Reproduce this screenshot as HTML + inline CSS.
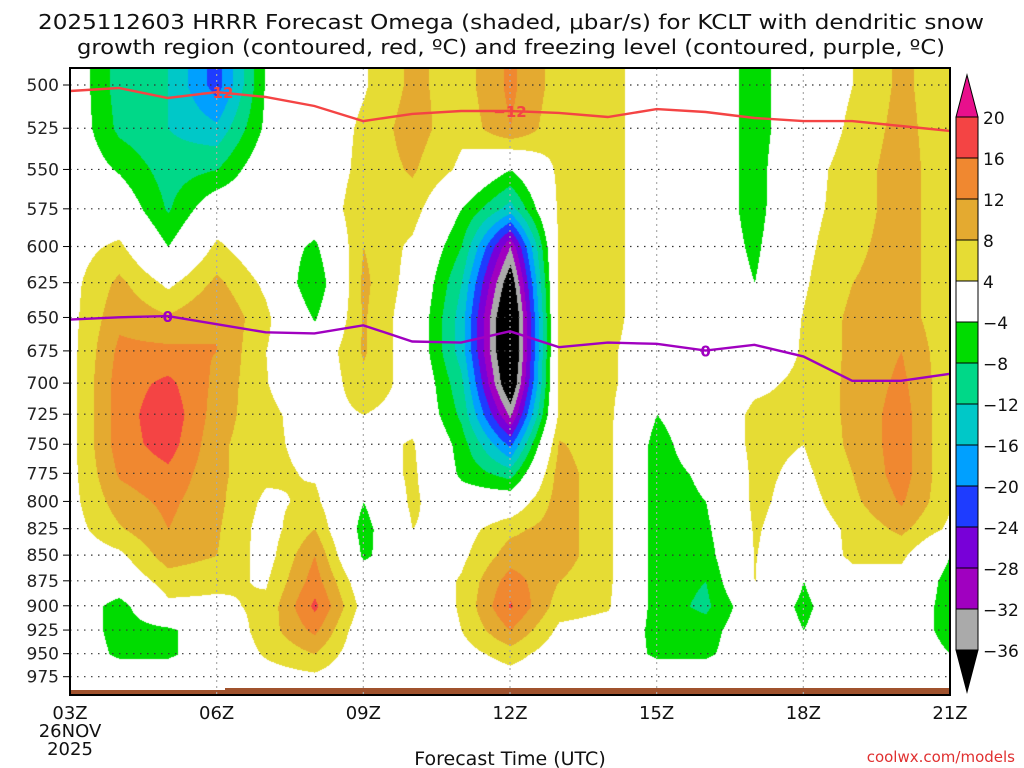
<!DOCTYPE html>
<html><head><meta charset="utf-8"><style>
html,body{margin:0;padding:0;background:#fff;width:1024px;height:768px;overflow:hidden}
#wrap{position:relative;width:1024px;height:768px}
canvas{position:absolute;left:0;top:0}
svg{position:absolute;left:0;top:0}
text{font-family:"DejaVu Sans","Liberation Sans",sans-serif;fill:#111}
</style></head><body>
<div id="wrap">
<canvas id="field" width="1024" height="768"></canvas>
<svg id="ov" width="1024" height="768"></svg>
</div>
<script>
// ---- data ----
const hours = ["03Z","04Z","05Z","06Z","07Z","08Z","09Z","10Z","11Z","12Z","13Z","14Z","15Z","16Z","17Z","18Z","19Z","20Z","21Z"];
const levels = [500,525,550,575,600,625,650,675,700,725,750,775,800,825,850,875,900,925,950,975];
const omega03 = [0,0,0,0,2,2.5,2.5,2.5,2.5,2.5,2.5,2.5,2.5,2,1,0,0,0,0,0];
const omega04 = [-10,-9,-4.5,0,5,9,11,13,14,14,14,12.5,10,7.5,3,0,-6,-6,-5,0];
const omega05 = [-12,-12,-10,-8.5,-4,3,8.5,13,17,19,18,15,13,12,10,6,3,-5,-5,0];
const omega06 = [-22,-15,-8,0,5,9,12,12,11,10,9,9,9,8.5,8,5,3,0,0,0];
const omega07 = [-3.5,-3,0,0,0,3,5,4,4.2,5,5,5,3,2,2,3.5,5,6,4.5,2];
const omega08 = [0,0,0,0,-5,-8,-4.5,0,0,2,2.5,3.5,5,8,12,14,17,13,8,3];
const omega09 = [3.5,5,5.5,7,8,9,8.5,8.5,7,4,2,0,-4,-6,-5,0,2,0,0,0];
const omega10 = [9,10,8.5,6,3,2,1,1,2,2,4.5,5,5,4,1,0,0,0,0,0];
const omega11 = [6,5,3,-4,-8,-12,-14,-14,-11,-9,-6,-5,-1,2,3,4.5,4.5,4,2,0];
const omega12 = [13,12,-4,-14,-32,-40,-45,-45,-42,-33,-21,-10,0,7,10,14,16.5,12,6,2];
const omega13 = [6,5,5,5,5,5,5,5,5,5,8.5,10,10,10,10,8,6,3,1,0];
const omega14 = [6,6,6,6,6,6,6,5,5,5,5,5,5,5,5,5,4.5,2,0,0];
const omega15 = [0,0,0,0,0,0,0,0,0,-4,-6,-6,-6,-6,-6,-6,-6,-6,-5,0];
const omega16 = [0,0,0,0,0,0,0,0,0,0,0,-3,-4,-5,-6,-8,-9,-6,-5,0];
const omega17 = [-6,-6,-6,-6,-5,-4,0,0,3,5,5,5,5,4.5,4.2,4.1,0,0,0,0];
const omega18 = [0,0,2,2.5,3,3.5,4.2,4.5,5,5,4,3,2,1,0,-4,-5,-4,0,0];
const omega19 = [4,5,6,6,7,8,9,9,9,9,9,8,7,5,5,2,0,0,0,0];
const omega20 = [9,9.5,10,10,10,10,10,12,13,14,14,14,12.5,9,5,2,0,0,0,0];
const omega21 = [5,5,5,5,5,5,5,5,5,4.5,4.5,4.5,4.5,3,-4,-6,-6,-6,-4,0];
const omegaCols = [omega03,omega04,omega05,omega06,omega07,omega08,omega09,omega10,omega11,omega12,omega13,omega14,omega15,omega16,omega17,omega18,omega19,omega20,omega21];
const dgzLine = [503.4,501.7,507.4,504,506.8,512,520.8,516.6,514.9,514.9,516,518.4,513.8,515.5,519,520.8,520.8,523.7,526.6];
const frzLine = [651.6,649.9,649,655,661,661.8,655.8,667.9,668.7,660.2,672.2,668.7,669.6,674.8,670.4,679.2,698.2,698.2,692.7];
const cbarTicks = ["20","16","12","8","4","−4","−8","−12","−16","−20","−24","−28","−32","−36"];
const cbarBounds = [20,16,12,8,4,-4,-8,-12,-16,-20,-24,-28,-32,-36];

// ---- axes (log-pressure) ----
const X0=70, X1=950, Y500=85, KLN=886, YT=68, YB=695;
const xOf = h => X0 + (X1-X0)*h/18;
const yOf = p => Y500 + KLN*Math.log(p/500);
const hOf = x => (x-X0)/(X1-X0)*18;

const colors = {mag:"#e8108c",red:"#f44444",org:"#f08830",gold:"#e4aa30",yel:"#e6dc34",wht:"#ffffff",grn:"#00dc00",teal:"#00d888",cyan:"#00c8c8",lblue:"#00a0ff",blue:"#1e3cff",purp:"#7800d8",viol:"#a000c0",gray:"#aaaaaa",blk:"#000000"};
const bandCols = [colors.red,colors.org,colors.gold,colors.yel,colors.wht,colors.grn,colors.teal,colors.cyan,colors.lblue,colors.blue,colors.purp,colors.viol,colors.gray];
function colorFor(v){
  if(v>=20) return colors.mag;
  for(let i=0;i<cbarBounds.length-1;i++){ if(v>=cbarBounds[i+1]) return bandCols[i]; }
  return colors.blk;
}
function hex(c){return [parseInt(c.substr(1,2),16),parseInt(c.substr(3,2),16),parseInt(c.substr(5,2),16)];}

// ---- field ----
const cv=document.getElementById('field'), ctx=cv.getContext('2d');
const img=ctx.createImageData(1024,768);
const nT=hours.length, nP=levels.length;
const levY=levels.map(yOf);
for(let y=YT;y<689;y++){
  let p0=0, fp=0;
  if(y<=levY[0]){p0=0;fp=0;}
  else if(y>=levY[nP-1]){p0=nP-2;fp=1;}
  else { for(let i=0;i<nP-1;i++){ if(y>=levY[i]&&y<levY[i+1]){p0=i;fp=(y-levY[i])/(levY[i+1]-levY[i]);break;} } }
  for(let x=X0;x<X1;x++){
    let ti=hOf(x); ti=Math.max(0,Math.min(nT-1,ti));
    const t0=Math.min(Math.floor(ti),nT-2), ft=ti-t0;
    const a=omegaCols[t0][p0], b=omegaCols[t0+1][p0], c=omegaCols[t0][p0+1], d=omegaCols[t0+1][p0+1];
    const v=(a*(1-ft)+b*ft)*(1-fp)+(c*(1-ft)+d*ft)*fp;
    const rgb=hex(colorFor(v)); const k=(y*1024+x)*4;
    img.data[k]=rgb[0];img.data[k+1]=rgb[1];img.data[k+2]=rgb[2];img.data[k+3]=255;
  }
}
ctx.putImageData(img,0,0);

// ---- overlay ----
const svg=document.getElementById('ov'), NS="http://www.w3.org/2000/svg";
function mk(tag,attrs,parent){const e=document.createElementNS(NS,tag);for(const k in attrs)e.setAttribute(k,attrs[k]);(parent||svg).appendChild(e);return e;}
function txt(s,x,y,size,anchor,fill,name){const t=mk('text',{x:x,y:y,'font-size':size,'text-anchor':anchor||'start'});if(fill)t.setAttribute('style','fill:'+fill);t.textContent=s;


return t;}

// ground
const g=mk('rect',{x:X0,y:690,width:155,height:4,fill:'#a0522d'});


const g2=mk('rect',{x:225,y:688,width:X1-225,height:6,fill:'#a0522d'});



// grid
levels.forEach(p=>{
  const l=mk('line',{x1:X0,x2:X1,y1:yOf(p),y2:yOf(p),stroke:'#333','stroke-width':1.2,'stroke-dasharray':'1.5 5.5'});
  
  
  const tk=mk('line',{x1:X0-7,x2:X0,y1:yOf(p),y2:yOf(p),stroke:'#000','stroke-width':1});
  
  
  txt(String(p),X0-11,yOf(p)+6,17,'end','#222','y-tick-label');
});
hours.forEach((h,i)=>{
  if(i%3!==0) return;
  const x=xOf(i);
  if(i>0&&i<18){
    const l=mk('line',{x1:x,x2:x,y1:YT,y2:YB,stroke:'#aaa','stroke-width':1.2,'stroke-dasharray':'2 4'});
    
    
  }
  txt(h,x,719,18,'middle','#111','x-tick-label');
});
txt("26NOV",X0,737,18,'middle','#111','x-date-label');
txt("2025",X0,755,18,'middle','#111','x-year-label');

// lines
function linePath(arr){return arr.map((p,i)=>(i?'L':'M')+xOf(i).toFixed(1)+' '+yOf(p).toFixed(1)).join(' ');}
const red=mk('path',{d:linePath(dgzLine),fill:'none',stroke:'#f44444','stroke-width':2.4});


const pur=mk('path',{d:linePath(frzLine),fill:'none',stroke:'#a000c0','stroke-width':2.4});


function lab(s,i,arr,col,name){
  const x=xOf(i),y=yOf(arr[i]);
  const t=txt(s,x,y+6,15,'middle',col,name); t.setAttribute('font-weight','bold');
}
lab("−12",3,dgzLine,'#f44444','dgz-label');
lab("−12",9,dgzLine,'#f44444','dgz-label');
lab("0",2,frzLine,'#a000c0','freezing-label');
lab("0",13,frzLine,'#a000c0','freezing-label');

// frame
const fr=mk('rect',{x:X0,y:YT,width:X1-X0,height:YB-YT,fill:'none',stroke:'#000','stroke-width':2});



// colorbar
const CBX=956, CBW=22, CBTOP=117, CBSTEP=41;
const up=mk('polygon',{points:`${CBX},${CBTOP} ${CBX+CBW},${CBTOP} ${CBX+CBW/2},${CBTOP-42}`,fill:colors.mag,stroke:'#000','stroke-width':1});


bandCols.forEach((c,i)=>{
  const r=mk('rect',{x:CBX,y:CBTOP+i*CBSTEP,width:CBW,height:CBSTEP,fill:c,stroke:'#000','stroke-width':1});
  
  
});
const yEnd=CBTOP+bandCols.length*CBSTEP;
const dn=mk('polygon',{points:`${CBX},${yEnd} ${CBX+CBW},${yEnd} ${CBX+CBW/2},${yEnd+42}`,fill:'#000',stroke:'#000','stroke-width':1});


cbarTicks.forEach((s,i)=>{ txt(s,983,CBTOP+i*CBSTEP+7,17,'start','#111','colorbar-label'); });

// titles
const t1=txt("2025112603 HRRR Forecast Omega (shaded, μbar/s) for KCLT with dendritic snow",511,29,20,'middle','#111','chart-title-line1');
t1.setAttribute('textLength','946');t1.setAttribute('lengthAdjust','spacingAndGlyphs');
const t2=txt("growth region (contoured, red, ºC) and freezing level (contoured, purple, ºC)",511,54,20,'middle','#111','chart-title-line2');
t2.setAttribute('textLength','868');t2.setAttribute('lengthAdjust','spacingAndGlyphs');
txt("Forecast Time (UTC)",510,765,19,'middle','#111','x-axis-title');
txt("coolwx.com/models",1015,762,15,'end','#e03030','credit-text');
</script>
</body></html>
